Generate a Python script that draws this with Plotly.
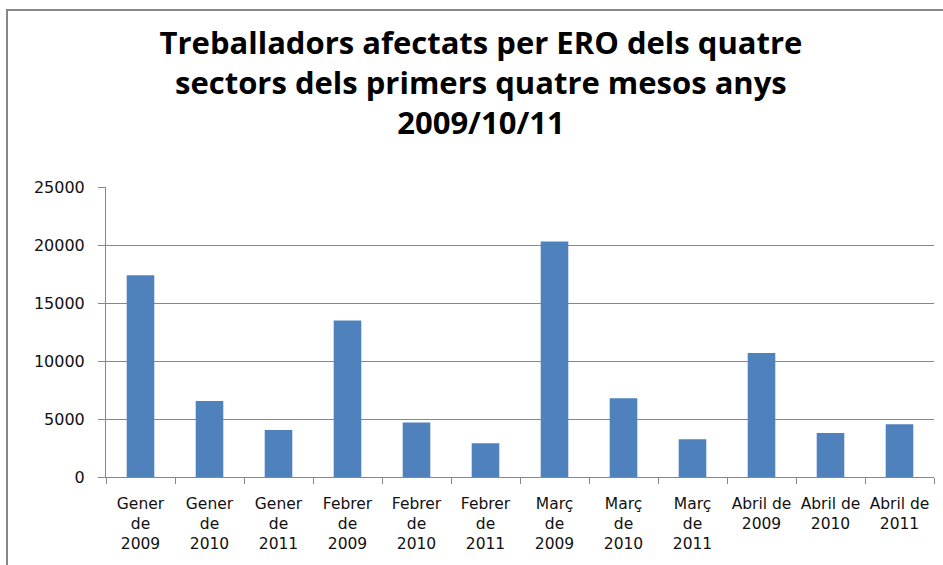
import plotly.graph_objects as go

categories = ["Gener<br>de<br>2009", "Gener<br>de<br>2010", "Gener<br>de<br>2011",
              "Febrer<br>de<br>2009", "Febrer<br>de<br>2010", "Febrer<br>de<br>2011",
              "Març<br>de<br>2009", "Març<br>de<br>2010", "Març<br>de<br>2011",
              "Abril de<br>2009", "Abril de<br>2010", "Abril de<br>2011"]
values = [17400, 6550, 4050, 13500, 4700, 2900, 20300, 6800, 3250, 10700, 3800, 4550]
y_ticks = [0, 5000, 10000, 15000, 20000, 25000]
y_tick_labels = ["0", "5000", "10000", "15000", "20000", "25000"]

title_text = ("Treballadors afectats per ERO dels quatre<br>"
              "sectors dels primers quatre mesos anys<br>2009/10/11")

fig = go.Figure(go.Bar(x=categories, y=values, marker=dict(color="#4F81BD", line=dict(width=0))))

axis_color = "#878787"
fig.update_layout(
    width=943, height=565,
    margin=dict(l=106, r=9, t=187, b=88),
    paper_bgcolor="white", plot_bgcolor="white",
    bargap=0.6,
    showlegend=False,
    title=dict(text=title_text, x=0.51, xanchor="center", y=0.905, yanchor="top",
               font=dict(family="Open Sans", size=31, color="black", weight="bold")),
    font=dict(family="DejaVu Sans", size=16, color="black"),
    xaxis=dict(showline=True, linecolor=axis_color, linewidth=1,
               ticks="outside", ticklen=6, tickcolor=axis_color,
               tickson="boundaries", showgrid=False, tickangle=0,
               ticklabelstandoff=12,
               tickfont=dict(family="DejaVu Sans", size=15.5, color="#111111")),
    yaxis=dict(range=[0, 25010], tickvals=y_ticks, ticktext=y_tick_labels,
               showline=True, linecolor=axis_color,
               linewidth=1, ticks="outside", ticklen=7, tickcolor=axis_color,
               ticklabelstandoff=10,
               showgrid=True, gridcolor=axis_color, gridwidth=1, zeroline=False,
               tickfont=dict(family="DejaVu Sans", size=16, color="#111111")),
    shapes=[dict(type="rect", xref="paper", yref="paper",
                 x0=(7 - 106) / 828, x1=1.2, y0=-0.6, y1=(477 - 10) / 290,
                 line=dict(color="#868686", width=2), fillcolor="rgba(0,0,0,0)",
                 layer="below")],
)

fig.write_html("out.html", config={"displayModeBar": False},
               post_script="document.body.style.margin='0';")
